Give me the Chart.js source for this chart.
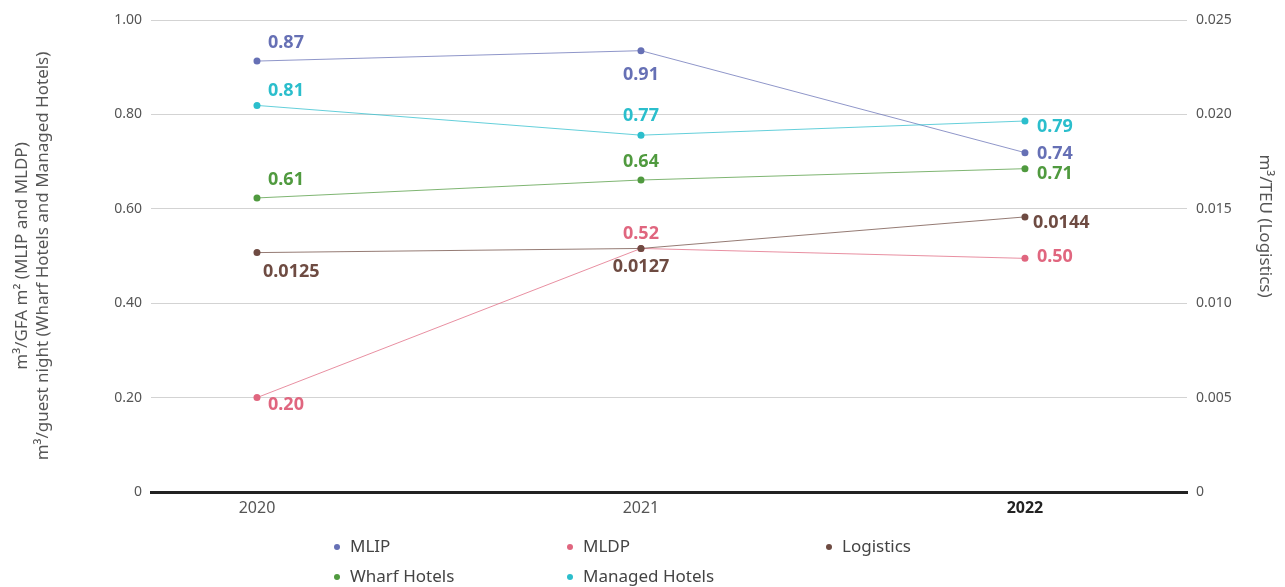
<!DOCTYPE html>
<html><head><meta charset="utf-8">
<script src="https://cdn.jsdelivr.net/npm/chart.js@4"></script>
<style>html,body{margin:0;padding:0;background:#fff;} #wrap{width:1285px;height:587px;position:relative;}</style>
</head><body><div id="wrap"><canvas id="c" width="1285" height="587"></canvas></div>
<script>
// ---- data ----
const years = [2020, 2021, 2022];
const seriesNames = ['MLIP', 'MLDP', 'Logistics', 'Wharf Hotels', 'Managed Hotels'];
const mlip = [0.913, 0.935, 0.719];
const mldp = [0.200, 0.516, 0.495];
const logistics = [0.01268, 0.0129, 0.01457];
const wharfHotels = [0.623, 0.661, 0.685];
const managedHotels = [0.819, 0.756, 0.786];
const mlipLabels = ['0.87', '0.91', '0.74'];
const mldpLabels = ['0.20', '0.52', '0.50'];
const logisticsLabels = ['0.0125', '0.0127', '0.0144'];
const wharfLabels = ['0.61', '0.64', '0.71'];
const managedLabels = ['0.81', '0.77', '0.79'];
const leftTickValues = [0, 0.2, 0.4, 0.6, 0.8, 1.0];
const rightTickValues = [0, 0.005, 0.010, 0.015, 0.020, 0.025];
const leftTitle = ['m\u00b3/GFA m\u00b2 (MLIP and MLDP)', 'm\u00b3/guest night (Wharf Hotels and Managed Hotels)'];
const rightTitle = 'm\u00b3/TEU (Logistics)';

// ---- styles ----
const colors = ['#6670b5', '#e0667f', '#6e4b42', '#509a3f', '#2bbecc'];
const FONT = '"Noto Sans", "Open Sans", sans-serif';
// label offsets [dx, dy, align] per point
const labelPos = [
  [[11, -18, 'left'], [0, 24, 'center'], [12, 1, 'left']],
  [[11, 7, 'left'], [0, -15, 'center'], [12, -1, 'left']],
  [[6, 19, 'left'], [0, 18, 'center'], [8, 6, 'left']],
  [[11, -18, 'left'], [0, -18, 'center'], [12, 5, 'left']],
  [[11, -15, 'left'], [0, -19, 'center'], [12, 6, 'left']]
];
const legendCols = [337, 570, 829];
const legendRows = [547, 577];
const rightTitlePos = [1265, 226];

const values = [mlip, mldp, logistics, wharfHotels, managedHotels];
const labels = [mlipLabels, mldpLabels, logisticsLabels, wharfLabels, managedLabels];

const datasets = seriesNames.map((n, i) => ({
  label: n,
  data: years.map((y, j) => ({x: y, y: values[i][j]})),
  yAxisID: n === 'Logistics' ? 'y2' : 'y',
  borderColor: colors[i] + 'bb',
  backgroundColor: colors[i],
  borderWidth: 1,
  pointRadius: 3.5,
  pointBorderWidth: 0,
  pointBackgroundColor: colors[i],
  tension: 0,
  valueLabels: labels[i],
  order: 5 - i
}));

const labelPlugin = {
  id: 'valueLabels',
  afterDatasetsDraw(chart) {
    const ctx = chart.ctx;
    ctx.save();
    ctx.font = 'bold 18px ' + FONT;
    ctx.textBaseline = 'middle';
    chart.data.datasets.forEach((ds, i) => {
      const meta = chart.getDatasetMeta(i);
      meta.data.forEach((pt, j) => {
        const [dx, dy, al] = labelPos[i][j];
        ctx.fillStyle = colors[i];
        ctx.textAlign = al;
        ctx.fillText(ds.valueLabels[j], pt.x + dx, pt.y + dy);
      });
    });
    ctx.restore();
  }
};

const legendPlugin = {
  id: 'gridLegend',
  afterDraw(chart) {
    const ctx = chart.ctx;
    ctx.save();
    ctx.font = '17px ' + FONT;
    ctx.textBaseline = 'middle';
    ctx.textAlign = 'left';
    chart.data.datasets.forEach((ds, i) => {
      const x = legendCols[i % 3], y = legendRows[Math.floor(i / 3)];
      ctx.fillStyle = colors[i];
      ctx.beginPath();
      ctx.arc(x, y, 3, 0, Math.PI * 2);
      ctx.fill();
      ctx.fillStyle = '#444';
      ctx.fillText(ds.label, x + 13, y);
    });
    // right axis title
    ctx.translate(rightTitlePos[0], rightTitlePos[1]);
    ctx.rotate(Math.PI / 2);
    ctx.textAlign = 'center';
    ctx.fillStyle = '#555';
    ctx.font = '17px ' + FONT;
    ctx.fillText(rightTitle, 0, 0);
    ctx.restore();
  }
};

new Chart(document.getElementById('c'), {
  type: 'line',
  data: {datasets},
  plugins: [labelPlugin, legendPlugin],
  options: {
    responsive: false,
    animation: false,
    layout: {padding: {top: 20, left: 0, right: 0, bottom: 0}},
    plugins: {legend: {display: false}, tooltip: {enabled: false}},
    scales: {
      x: {
        type: 'linear',
        min: 2019.724,
        max: 2022.422,
        afterFit(s) { s.height = 95; },
        afterBuildTicks(s) { s.ticks = years.map(v => ({value: v})); },
        grid: {display: false, drawTicks: false},
        border: {display: true, color: '#222', width: 3},
        ticks: {
          padding: 7,
          maxRotation: 0,
          minRotation: 0,
          autoSkip: false,
          callback: v => String(v),
          color: c => c.tick && c.tick.value === 2022 ? '#222' : '#555',
          font: c => ({family: FONT, size: 16, weight: c.tick && c.tick.value === 2022 ? 'bold' : 'normal'})
        }
      },
      y: {
        position: 'left',
        min: 0, max: 1,
        afterFit(s) { s.width = 151; },
        afterBuildTicks(s) { s.ticks = leftTickValues.map(v => ({value: v})); },
        grid: {color: '#d3d3d3', lineWidth: 1, drawTicks: false},
        border: {display: false},
        ticks: {padding: 9, color: '#555', font: {family: FONT, size: 14},
          callback: v => v === 0 ? '0' : v.toFixed(2)},
        title: {display: true, text: leftTitle, color: '#555', padding: {top: 11.5, bottom: 0},
          font: {family: FONT, size: 17, lineHeight: 21 / 17}}
      },
      y2: {
        position: 'right',
        min: 0, max: 0.025,
        afterFit(s) { s.width = 98; },
        afterBuildTicks(s) { s.ticks = rightTickValues.map(v => ({value: v})); },
        grid: {display: false, drawTicks: false},
        border: {display: false},
        ticks: {padding: 9, color: '#555', font: {family: FONT, size: 14},
          callback: v => v === 0 ? '0' : v.toFixed(3)},
        title: {display: false}
      }
    }
  }
});
</script>
</body></html>
